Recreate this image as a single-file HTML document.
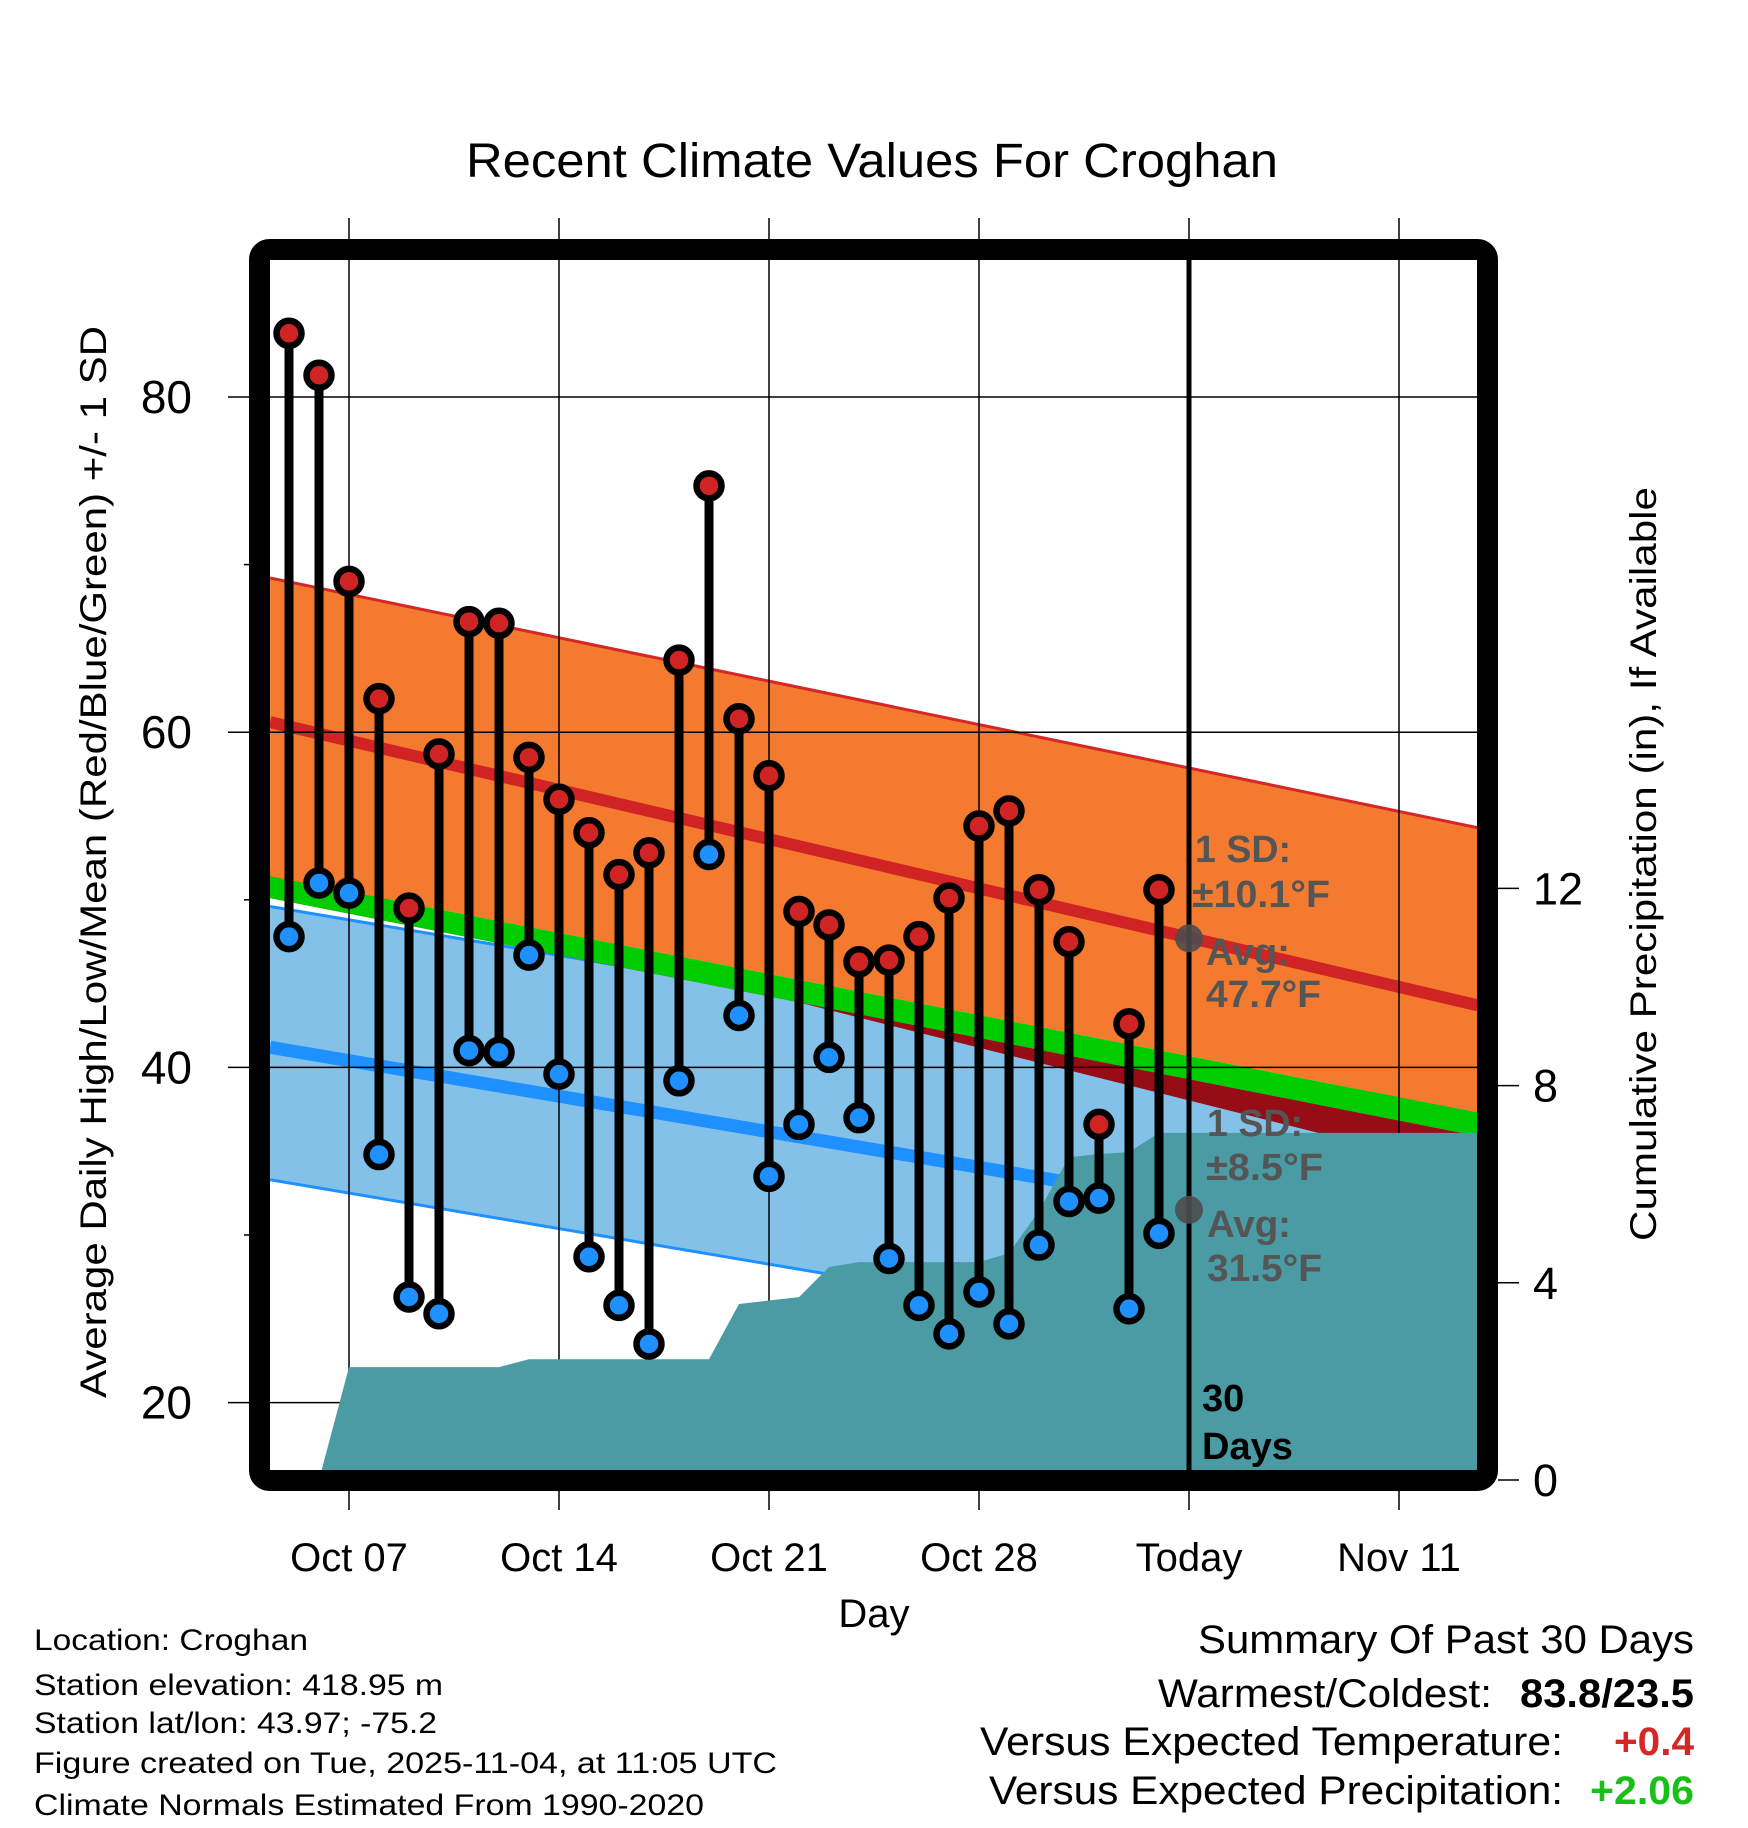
<!DOCTYPE html>
<html><head><meta charset="utf-8"><style>
html,body{margin:0;padding:0;background:#fff;}
svg{display:block;font-family:"Liberation Sans",Arial,sans-serif;}
</style></head><body>
<svg id="chart" width="1748" height="1828" viewBox="0 0 1748 1828" xmlns="http://www.w3.org/2000/svg">
<defs><clipPath id="plotclip"><rect x="270" y="260" width="1208" height="1210"/></clipPath></defs>
<rect x="0" y="0" width="1748" height="1828" fill="#fff"/>
<g id="bands" clip-path="url(#plotclip)"></g>
<g id="grid"></g>
<g id="precip" clip-path="url(#plotclip)"></g>
<g id="bars" clip-path="url(#plotclip)"></g>
<g id="today"></g>
<rect x="259.5" y="249.5" width="1228" height="1231" rx="10" fill="none" stroke="#000" stroke-width="21"/>
<g id="axes"></g>
<text x="872" y="177" font-size="48" text-anchor="middle" textLength="812" lengthAdjust="spacingAndGlyphs">Recent Climate Values For Croghan</text>
<text x="874" y="1627" font-size="40" text-anchor="middle">Day</text>
<text transform="translate(106,862) rotate(-90)" font-size="37" text-anchor="middle" textLength="1072" lengthAdjust="spacingAndGlyphs">Average Daily High/Low/Mean (Red/Blue/Green) +/- 1 SD</text>
<text transform="translate(1656,864) rotate(-90)" font-size="37" text-anchor="middle" textLength="754" lengthAdjust="spacingAndGlyphs">Cumulative Precipitation (in), If Available</text>
<g font-size="30">
<text x="34" y="1650" textLength="274" lengthAdjust="spacingAndGlyphs">Location: Croghan</text>
<text x="34" y="1695" textLength="409" lengthAdjust="spacingAndGlyphs">Station elevation: 418.95 m</text>
<text x="34" y="1733" textLength="403" lengthAdjust="spacingAndGlyphs">Station lat/lon: 43.97; -75.2</text>
<text x="34" y="1773" textLength="743" lengthAdjust="spacingAndGlyphs">Figure created on Tue, 2025-11-04, at 11:05 UTC</text>
<text x="34" y="1815" textLength="670" lengthAdjust="spacingAndGlyphs">Climate Normals Estimated From 1990-2020</text>
</g>
<g font-size="40">
<text x="1198" y="1653" textLength="496" lengthAdjust="spacingAndGlyphs">Summary Of Past 30 Days</text>
<text x="1158" y="1707" textLength="334" lengthAdjust="spacingAndGlyphs">Warmest/Coldest:</text>
<text x="1520" y="1707" font-weight="bold" textLength="174" lengthAdjust="spacingAndGlyphs">83.8/23.5</text>
<text x="980" y="1755" textLength="583" lengthAdjust="spacingAndGlyphs">Versus Expected Temperature:</text>
<text x="1614" y="1755" font-weight="bold" fill="#d62728" textLength="80" lengthAdjust="spacingAndGlyphs">+0.4</text>
<text x="989" y="1804" textLength="574" lengthAdjust="spacingAndGlyphs">Versus Expected Precipitation:</text>
<text x="1590" y="1804" font-weight="bold" fill="#18c018" textLength="104" lengthAdjust="spacingAndGlyphs">+2.06</text>
</g>
</svg>
<script>
const days = ['Oct 05','Oct 06','Oct 07','Oct 08','Oct 09','Oct 10','Oct 11','Oct 12','Oct 13','Oct 14','Oct 15','Oct 16','Oct 17','Oct 18','Oct 19','Oct 20','Oct 21','Oct 22','Oct 23','Oct 24','Oct 25','Oct 26','Oct 27','Oct 28','Oct 29','Oct 30','Oct 31','Nov 01','Nov 02','Nov 03'];
const highs = [83.8,81.3,69.0,62.0,49.5,58.7,66.6,66.5,58.5,56.0,54.0,51.5,52.8,64.3,74.7,60.8,57.4,49.3,48.5,46.3,46.4,47.8,50.1,54.4,55.3,50.6,47.5,36.6,42.6,50.6];
const lows = [47.8,51.0,50.4,34.8,26.3,25.3,41.0,40.9,46.7,39.6,28.7,25.8,23.5,39.2,52.7,43.1,33.5,36.6,40.6,37.0,28.6,25.8,24.1,26.6,24.7,29.4,32.0,32.2,25.6,30.1];
const precip = [0,0,2.29,2.29,2.29,2.29,2.29,2.29,2.45,2.45,2.45,2.45,2.45,2.45,2.45,3.57,3.64,3.71,4.32,4.42,4.42,4.42,4.42,4.42,4.60,5.46,6.55,6.61,6.65,7.04];
const normalEdgeDays = [-0.63, 39.63];
const highUpper = [69.2, 54.3];
const highMean = [60.6, 43.7];
const greenTop = [51.4, 37.3];
const greenBottom = [50.1, 35.9];
const darkRedLower = [51.8, 33.7];
const lowUpper = [49.6, 37.4];
const lowMean = [41.2, 29.0];
const lowLower = [33.3, 21.1];
const weekTickDays = [2,9,16,23,30,37];
const weekTickLabels = ['Oct 07','Oct 14','Oct 21','Oct 28','Today','Nov 11'];
const tempTicks = [20,40,60,80];
const tempMinorTicks = [30,50,70];
const precipTicks = [0,4,8,12];
const todayDay = 30;
const avgHigh = 47.7, avgLow = 31.5;

const NS='http://www.w3.org/2000/svg';
const xDay = d => 289 + 30*d;
const yT = t => 397 + (80 - t)*16.76;
const yP = p => 1480 - p*49.3;
function mk(tag, parent, attrs){const e=document.createElementNS(NS,tag);for(const k in attrs)e.setAttribute(k,attrs[k]);parent.appendChild(e);return e;}
function band(top, bot){
  const x0=xDay(normalEdgeDays[0]), x1=xDay(normalEdgeDays[1]);
  return `${x0},${yT(top[0])} ${x1},${yT(top[1])} ${x1},${yT(bot[1])} ${x0},${yT(bot[0])}`;
}
function line(vals){const x0=xDay(normalEdgeDays[0]), x1=xDay(normalEdgeDays[1]);return {x1:x0,y1:yT(vals[0]),x2:x1,y2:yT(vals[1])};}

const gB=document.getElementById('bands');
let e;
e=mk('polygon',gB,{points:band(lowUpper,lowLower),fill:'#84c1e8'});


e=mk('line',gB,Object.assign(line(lowUpper),{stroke:'#1e90ff','stroke-width':3}));


e=mk('line',gB,Object.assign(line(lowLower),{stroke:'#1e90ff','stroke-width':3}));


e=mk('line',gB,Object.assign(line(lowMean),{stroke:'#1e90ff','stroke-width':13}));


e=mk('polygon',gB,{points:band(greenBottom,darkRedLower),fill:'#960d16'});


e=mk('polygon',gB,{points:band(highUpper,greenTop),fill:'#f47a30'});


e=mk('line',gB,Object.assign(line(highUpper),{stroke:'#d62728','stroke-width':3}));


e=mk('polygon',gB,{points:band(greenTop,greenBottom),fill:'#00cc00'});


e=mk('line',gB,Object.assign(line(highMean),{stroke:'#d02424','stroke-width':12}));



const gG=document.getElementById('grid');
tempTicks.forEach(t=>{
  e=mk('line',gG,{x1:228,y1:yT(t),x2:1478,y2:yT(t),stroke:'#000','stroke-width':1.5});
  
  
});
weekTickDays.forEach(d=>{
  e=mk('line',gG,{x1:xDay(d),y1:218,x2:xDay(d),y2:1510,stroke:'#000','stroke-width':1.5});
  
  
});

const gPr=document.getElementById('precip');
let pts=`${xDay(0)},${yP(0)+20} `;
precip.forEach((p,i)=>{pts+=`${xDay(i)},${yP(p)} `;});
pts+=`${1478},${yP(precip[precip.length-1])} 1478,1495 ${xDay(0)},1495`;
e=mk('polygon',gPr,{points:pts,fill:'#4a9ba3'});



const gBar=document.getElementById('bars');
days.forEach((d,i)=>{
  const x=xDay(i);
  const g=mk('g',gBar,{});
  
  
  mk('line',g,{x1:x,y1:yT(highs[i]),x2:x,y2:yT(lows[i]),stroke:'#000','stroke-width':9});
  e=mk('circle',g,{cx:x,cy:yT(highs[i]),r:12.5,fill:'#d02424',stroke:'#000','stroke-width':6.5});
  
  
  e=mk('circle',g,{cx:x,cy:yT(lows[i]),r:12.5,fill:'#1e90ff',stroke:'#000','stroke-width':6.5});
  
  
});

const gTd=document.getElementById('today');
const tx=xDay(todayDay);
e=mk('line',gTd,{x1:tx,y1:260,x2:tx,y2:1470,stroke:'#000','stroke-width':5});


e=mk('circle',gTd,{cx:tx,cy:yT(avgHigh),r:14,fill:'#4d4d4d','fill-opacity':0.9});


e=mk('circle',gTd,{cx:tx,cy:yT(avgLow),r:14,fill:'#4d4d4d','fill-opacity':0.9});


const anns=[['1 SD:',1195,862,96],['\u00b110.1\u00b0F',1192,907,138],['Avg:',1206,965,84],['47.7\u00b0F',1206,1007,115],['1 SD:',1207,1136,96],['\u00b18.5\u00b0F',1206,1180,117],['Avg:',1207,1237,84],['31.5\u00b0F',1207,1281,115]];
anns.forEach(a=>{
  e=mk('text',gTd,{x:a[1],y:a[2],'font-size':38,'font-weight':'bold',fill:'#555',textLength:a[3],lengthAdjust:'spacingAndGlyphs'});
  e.textContent=a[0];
  
  
});
e=mk('text',gTd,{x:1202,y:1411,'font-size':38,'font-weight':'bold',fill:'#000'});
e.textContent='30';


e=mk('text',gTd,{x:1202,y:1459,'font-size':38,'font-weight':'bold',fill:'#000'});
e.textContent='Days';



const gA=document.getElementById('axes');
tempTicks.forEach(t=>{
  e=mk('text',gA,{x:192,y:yT(t)+16,'font-size':46,'text-anchor':'end'});
  e.textContent=t;
  
  
});
tempMinorTicks.forEach(t=>{
  e=mk('line',gA,{x1:244,y1:yT(t),x2:252,y2:yT(t),stroke:'#000','stroke-width':1.5});
  
  
});
precipTicks.forEach(p=>{
  e=mk('line',gA,{x1:1498,y1:yP(p),x2:1519,y2:yP(p),stroke:'#000','stroke-width':1.5});
  
  
  e=mk('text',gA,{x:1533,y:yP(p)+16,'font-size':45});
  e.textContent=p;
  
  
});
weekTickDays.forEach((d,i)=>{
  e=mk('text',gA,{x:xDay(d),y:1571,'font-size':40,'text-anchor':'middle'});
  e.textContent=weekTickLabels[i];
  
  
});
</script>
</body></html>
